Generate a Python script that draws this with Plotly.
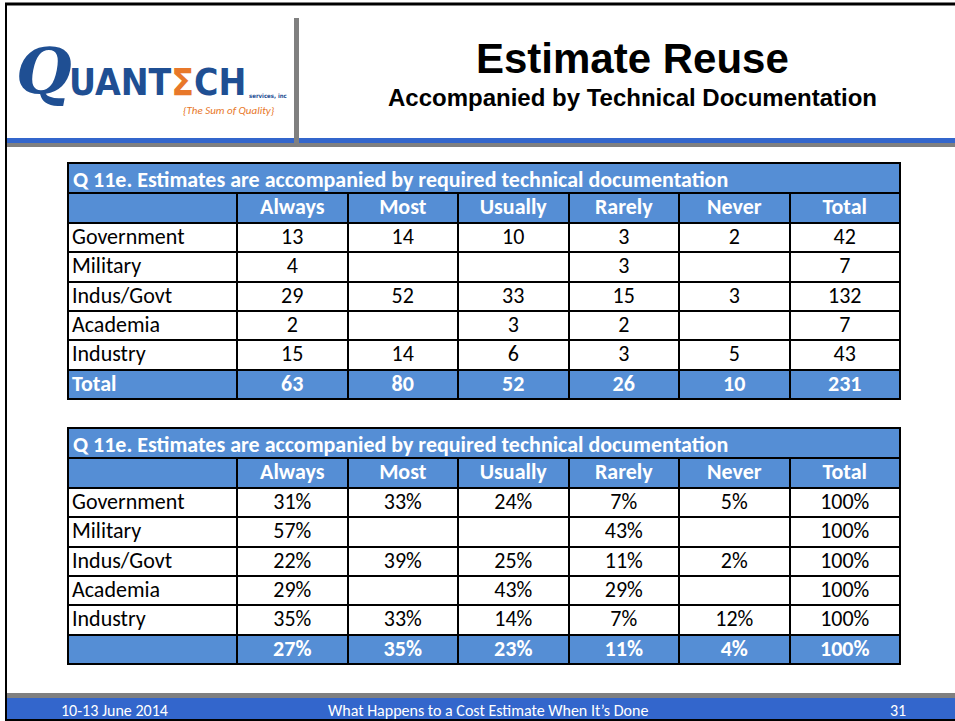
import plotly.graph_objects as go

# ---------------- data ----------------
groups = ["Government", "Military", "Indus/Govt", "Academia", "Industry"]
responses = ["Always", "Most", "Usually", "Rarely", "Never", "Total"]

always = ["13", "4", "29", "2", "15"]
most = ["14", "", "52", "", "14"]
usually = ["10", "", "33", "3", "6"]
rarely = ["3", "3", "15", "2", "3"]
never = ["2", "", "3", "", "5"]
total = ["42", "7", "132", "7", "43"]
count_totals = ["63", "80", "52", "26", "10", "231"]

always_pct = ["31%", "57%", "22%", "29%", "35%"]
most_pct = ["33%", "", "39%", "", "33%"]
usually_pct = ["24%", "", "25%", "43%", "14%"]
rarely_pct = ["7%", "43%", "11%", "29%", "7%"]
never_pct = ["5%", "", "2%", "", "12%"]
total_pct = ["100%", "100%", "100%", "100%", "100%"]
pct_totals = ["27%", "35%", "23%", "11%", "4%", "100%"]

table_title = "Q 11e. Estimates are accompanied by required technical documentation"
slide_title = "Estimate Reuse"
slide_subtitle = "Accompanied by Technical Documentation"
footer_left = "10-13 June 2014"
footer_mid = "What Happens to a Cost Estimate When It\u2019s Done"
footer_right = "31"

# ---------------- style ----------------
W, H = 955, 721
BLUE = "#558ED5"
BAR_BLUE = "#3366CC"
GRAY = "#808080"
CAL = "Carlito, Lato, Calibri, sans-serif"
TX0, TX1 = 68, 900
FS = 22
HEAD_H = 30
ROW_H = 29.3
TEXT_SHIFT = 3.5  # plotly table puts text low in the cell; lift the text layer
LEFT_SHIFT = 4    # reduce plotly's left cell padding for the label column
CLEAR = "rgba(0,0,0,0)"

fig = go.Figure()


def text_table(top_px, bottom_px, header_vals, cell_vals, header_color, header_weight):
    fig.add_trace(go.Table(
        domain=dict(x=[(TX0 - LEFT_SHIFT) / W, TX1 / W], y=[1 - bottom_px / H, 1 - top_px / H]),
        columnwidth=[169 + LEFT_SHIFT] + [110.5] * 6,
        header=dict(values=header_vals, fill_color=CLEAR, height=HEAD_H if cell_vals else ROW_H,
                    font=dict(family=CAL, size=FS, color=header_color, weight=header_weight),
                    align=["left"] + ["center"] * 6, line=dict(color=CLEAR, width=0)),
        cells=dict(values=cell_vals, fill=dict(color=CLEAR), height=ROW_H,
                   font=dict(family=CAL, size=FS, color="black"),
                   align=["left"] + ["center"] * 6, line=dict(color=CLEAR, width=0)),
    ))


def add_table(body_cols, total_label, totals, top_px):
    n = len(groups)
    ncol = len(body_cols) + 1
    bottom_px = top_px + HEAD_H + (n + 1) * ROW_H
    fills = [["white"] * n + [BLUE] for _ in range(ncol)]
    # grid layer (fills and borders)
    fig.add_trace(go.Table(
        domain=dict(x=[TX0 / W, TX1 / W], y=[1 - (bottom_px + 12) / H, 1 - top_px / H]),
        columnwidth=[169] + [110.5] * 6,
        header=dict(values=[""] * ncol, fill_color=BLUE, height=HEAD_H,
                    line=dict(color="black", width=2), font=dict(size=FS)),
        cells=dict(values=[[""] * (n + 1) for _ in range(ncol)], fill=dict(color=fills), height=ROW_H,
                   line=dict(color="black", width=2), font=dict(size=FS)),
    ))
    # text layer: column headings + body rows
    text_table(top_px - TEXT_SHIFT, bottom_px + 12, [""] + responses,
               [groups] + body_cols, "white", "bold")
    # text layer: total row
    trow = top_px + HEAD_H + n * ROW_H - TEXT_SHIFT
    text_table(trow, trow + ROW_H + 12, [total_label] + totals, [], "white", "bold")


add_table([always, most, usually, rarely, never, total], "Total", count_totals, 193)
add_table([always_pct, most_pct, usually_pct, rarely_pct, never_pct, total_pct], "", pct_totals, 458)

shapes = []
annotations = []

# title rows of the tables
for top in (163, 428):
    shapes.append(dict(type="rect", xref="x", yref="y", x0=TX0, x1=TX1, y0=top, y1=top + 30,
                       fillcolor=BLUE, line=dict(color="black", width=2), layer="above"))
    annotations.append(dict(x=TX0 + 3, y=top + 16, xref="x", yref="y", text="<b>%s</b>" % table_title,
                            showarrow=False, xanchor="left", yanchor="middle",
                            font=dict(family=CAL, size=FS, color="white")))

# slide frame
shapes += [
    dict(type="line", xref="x", yref="y", x0=6, x1=6, y0=3, y1=720, line=dict(color="black", width=2)),
    dict(type="line", xref="x", yref="y", x0=5, x1=955, y0=4, y1=4, line=dict(color="black", width=3)),
    dict(type="line", xref="x", yref="y", x0=5, x1=955, y0=720, y1=720, line=dict(color="black", width=2)),
    # header lines
    dict(type="rect", xref="x", yref="y", x0=7, x1=955, y0=138, y1=143, fillcolor=BAR_BLUE, line=dict(width=0)),
    dict(type="rect", xref="x", yref="y", x0=7, x1=955, y0=143, y1=147, fillcolor=GRAY, line=dict(width=0)),
    dict(type="rect", xref="x", yref="y", x0=294, x1=299, y0=18, y1=147, fillcolor=GRAY, line=dict(width=0)),
    # footer
    dict(type="rect", xref="x", yref="y", x0=7, x1=955, y0=693, y1=698, fillcolor=GRAY, line=dict(width=0)),
    dict(type="rect", xref="x", yref="y", x0=7, x1=955, y0=698, y1=719, fillcolor=BAR_BLUE, line=dict(width=0)),
]

# slide titles
annotations += [
    dict(x=632, y=58, xref="x", yref="y", text="<b>%s</b>" % slide_title, showarrow=False,
         font=dict(family="Liberation Sans, Arial", size=42, color="black"), yanchor="middle"),
    dict(x=632, y=97, xref="x", yref="y", text="<b>%s</b>" % slide_subtitle, showarrow=False,
         font=dict(family="Liberation Sans, Arial", size=24, color="black"), yanchor="middle"),
]

# footer texts
for x, t in ((114, footer_left), (488, footer_mid), (898, footer_right)):
    annotations.append(dict(x=x, y=710, xref="x", yref="y", text=t, showarrow=False,
                            font=dict(family=CAL, size=16, color="white"), yanchor="middle"))

# logo
LOGO_BLUE = "#1F4F93"
ORANGE = "#E8782A"
annotations += [
    dict(x=44, y=70, xref="x", yref="y", text="Q", showarrow=False,
         font=dict(family="DejaVu Serif, serif", size=64, color=LOGO_BLUE, style="italic", weight="bold"),
         yanchor="middle"),
    dict(x=67, y=82, xref="x", yref="y",
         text="<b>UANT<span style='color:%s'>\u03a3</span>CH</b>" % ORANGE, showarrow=False,
         font=dict(family="DejaVu Sans Condensed, Liberation Sans", size=37, color=LOGO_BLUE),
         xanchor="left", yanchor="middle"),
    dict(x=247, y=95, xref="x", yref="y", text="<b>services, inc</b>", showarrow=False,
         font=dict(family="DejaVu Sans Condensed, Liberation Sans", size=6, color=LOGO_BLUE),
         xanchor="left", yanchor="middle"),
    dict(x=229, y=110, xref="x", yref="y", text="{The Sum of Quality}", showarrow=False,
         font=dict(family=CAL, size=11, color=ORANGE, style="italic"), yanchor="middle"),
]

fig.update_layout(
    width=W, height=H, margin=dict(l=0, r=0, t=0, b=0),
    paper_bgcolor="white", plot_bgcolor="rgba(0,0,0,0)",
    xaxis=dict(range=[0, W], visible=False, fixedrange=True, domain=[0, 1]),
    yaxis=dict(range=[H, 0], visible=False, fixedrange=True, domain=[0, 1]),
    shapes=shapes, annotations=annotations, showlegend=False,
)

fig.write_html("out.html", config={"displayModeBar": False},
               post_script="document.body.style.margin='0';")
